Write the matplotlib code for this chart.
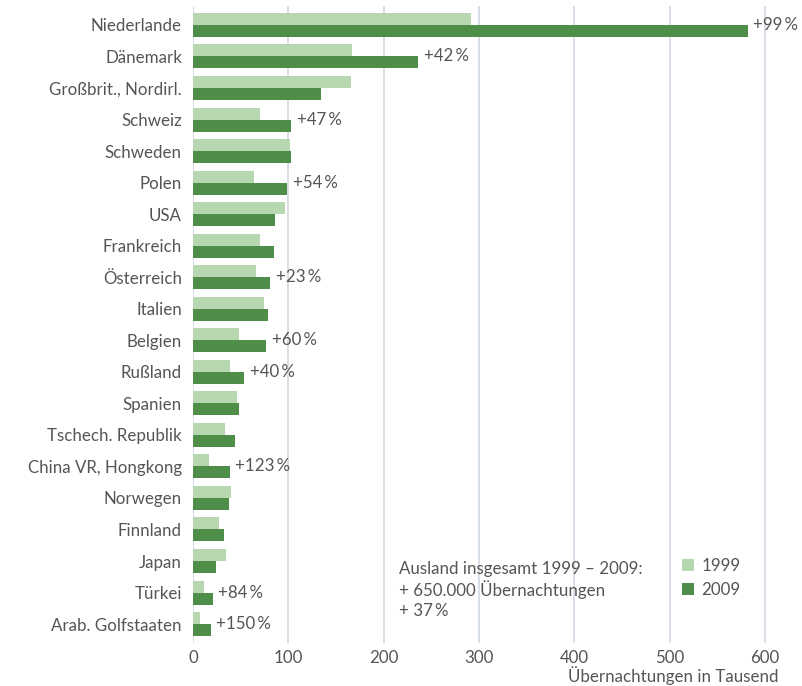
import matplotlib
matplotlib.use("Agg")
import matplotlib.pyplot as plt

plt.rcParams['font.family'] = ['Lato', 'DejaVu Sans']

countries = ["Niederlande", "Dänemark", "Großbrit., Nordirl.", "Schweiz", "Schweden",
             "Polen", "USA", "Frankreich", "Österreich", "Italien", "Belgien", "Rußland",
             "Spanien", "Tschech. Republik", "China VR, Hongkong", "Norwegen", "Finnland",
             "Japan", "Türkei", "Arab. Golfstaaten"]
v1999 = [292, 167, 166, 70, 102, 64, 96, 70, 66, 74, 48, 38.5, 46, 34, 17.3, 39.5, 27, 35, 11.2, 7.4]
v2009 = [582, 236, 134, 103, 103, 99, 86, 85, 81, 79, 77, 54, 48, 44, 38.5, 37.5, 33, 24, 20.6, 18.5]
changes = ["+99\u2009%", "+42\u2009%", None, "+47\u2009%", None, "+54\u2009%", None, None,
           "+23\u2009%", None, "+60\u2009%", "+40\u2009%", None, None, "+123\u2009%", None,
           None, None, "+84\u2009%", "+150\u2009%"]
xticks = [0, 100, 200, 300, 400, 500, 600]
series_labels = ["1999", "2009"]
note_lines = ["Ausland insgesamt 1999 \u2013 2009:", "+ 650.000 Übernachtungen", "+ 37\u2009%"]
xlabel = "Übernachtungen in Tausend"

c_light = "#b6d7b0"
c_dark = "#4e8e48"
c_grid = "#d5dce4"
c_text = "#555555"
fs = 12.2

fig = plt.figure(figsize=(8.02, 6.86), dpi=100)
ax = fig.add_axes([193 / 802, 43 / 686, 591 / 802, 637 / 686])

n = len(countries)
ys = list(range(n))
h = 0.38
b1 = ax.barh([y - h / 2 for y in ys], v1999, height=h, color=c_light, label=series_labels[0], zorder=2)
b2 = ax.barh([y + h / 2 for y in ys], v2009, height=h, color=c_dark, label=series_labels[1], zorder=2)

for y, a, b, t in zip(ys, v1999, v2009, changes):
    if t:
        ax.annotate(t, xy=(max(a, b), y), xytext=(4, 0), textcoords="offset points",
                    ha="left", va="center", fontsize=fs, color=c_text)

ax.set_xlim(0, 620)
ax.set_ylim(n - 1 + 0.6, -0.6)
ax.set_yticks(ys)
ax.set_yticklabels(countries, fontsize=fs, color=c_text)
ax.set_xticks(xticks)
ax.set_xticklabels([str(x) for x in xticks], fontsize=fs, color=c_text)
ax.tick_params(axis="y", length=0, pad=8)
ax.tick_params(axis="x", length=0, pad=5)
for s in ax.spines.values():
    s.set_visible(False)
ax.grid(axis="x", color=c_grid, linewidth=1.3, zorder=0)
ax.set_axisbelow(True)

fig.text(779 / 802, 1 - 676 / 686, xlabel, ha="right", va="center", fontsize=fs, color=c_text)

for i, line in enumerate(note_lines):
    fig.text(399 / 802, 1 - (569 + 21 * i) / 686, line, ha="left", va="center", fontsize=fs, color=c_text)

leg = ax.legend(handles=[b1, b2], loc="upper left", bbox_to_anchor=(682 / 802, 1 - 558 / 686),
                bbox_transform=fig.transFigure, frameon=False, fontsize=fs, borderpad=0,
                borderaxespad=0, handlelength=0.7, handleheight=0.7, handletextpad=0.45,
                labelspacing=0.45)
for t in leg.get_texts():
    t.set_color(c_text)

fig.savefig("out.png", dpi=100)
